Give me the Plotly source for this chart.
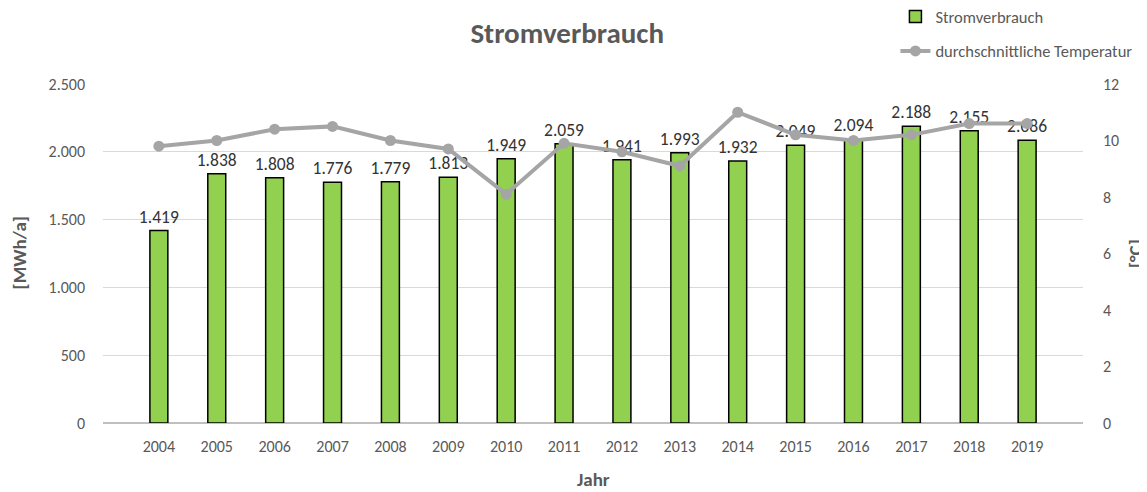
import plotly.graph_objects as go

years = ["2004", "2005", "2006", "2007", "2008", "2009", "2010", "2011",
         "2012", "2013", "2014", "2015", "2016", "2017", "2018", "2019"]
verbrauch = [1419, 1838, 1808, 1776, 1779, 1813, 1949, 2059,
             1941, 1993, 1932, 2049, 2094, 2188, 2155, 2086]
temperatur = [9.8, 10.0, 10.4, 10.5, 10.0, 9.7, 8.1, 9.9,
              9.6, 9.1, 11.0, 10.2, 10.0, 10.2, 10.6, 10.6]

FONT = "Carlito, Lato, 'Liberation Sans', sans-serif"
GRAY = "#595959"

fig = go.Figure()
fig.add_trace(go.Bar(
    x=years, y=verbrauch, name="Stromverbrauch", legendgroup="a",
    marker=dict(color="#92D050", line=dict(color="#000000", width=1.5)),
    width=0.31,
    texttemplate="%{y:,.0f}", textposition="outside", constraintext="none",
    textfont=dict(size=17.5, color="#333333", family=FONT),
    cliponaxis=False,
))
fig.add_trace(go.Scatter(
    x=years, y=temperatur, name="durchschnittliche Temperatur", legendgroup="b",
    yaxis="y2", mode="lines+markers",
    line=dict(color="#A5A5A5", width=4),
    marker=dict(color="#A5A5A5", size=11),
))

fig.update_layout(
    width=1139, height=484,
    paper_bgcolor="white", plot_bgcolor="white",
    separators=",.",
    font=dict(family=FONT, color=GRAY, size=16),
    margin=dict(l=95, r=64, t=76, b=69, autoexpand=False),
    title=dict(text="<b>Stromverbrauch</b>", x=0.491, xref="container",
               xanchor="center", y=0.948, yref="container", yanchor="middle",
               font=dict(size=29, color=GRAY, family=FONT)),
    xaxis=dict(type="category", showgrid=False, ticks="", showline=False,
               ticklabelstandoff=12,
               tickfont=dict(size=16, color=GRAY)),
    yaxis=dict(range=[0, 2500], dtick=500, tickformat=",.0f",
               gridcolor="#D9D9D9", gridwidth=1, zeroline=True,
               zerolinecolor="#BFBFBF", zerolinewidth=1.5,
               showline=False, ticks="", ticklabelstandoff=17,
               tickfont=dict(size=16, color=GRAY)),
    yaxis2=dict(range=[0, 12], dtick=2, overlaying="y", side="right",
                showgrid=False, zeroline=False, showline=False, ticks="",
                ticklabelstandoff=19,
                tickfont=dict(size=16, color=GRAY)),
    bargap=0.7,
    legend=dict(x=0.8086, xref="paper", y=1.25, yref="paper", xanchor="left",
                yanchor="top", orientation="v", bgcolor="rgba(0,0,0,0)",
                font=dict(size=16.5, color=GRAY), itemwidth=30, tracegroupgap=10),
    showlegend=True,
    annotations=[
        dict(text="<b>[MWh/a]</b>", xref="paper", yref="paper", x=-0.0857, y=0.5,
             textangle=-90, showarrow=False, font=dict(size=19, color=GRAY),
             xanchor="center", yanchor="middle"),
        dict(text="<b>[°C]</b>", xref="paper", yref="paper", x=1.053, y=0.501,
             textangle=-90, showarrow=False, font=dict(size=19, color=GRAY),
             xanchor="center", yanchor="middle"),
        dict(text="<b>Jahr</b>", xref="paper", yref="paper", x=0.5, y=-0.168,
             showarrow=False, font=dict(size=19, color=GRAY),
             xanchor="center", yanchor="middle"),
    ],
)

fig.write_html("out.html")
